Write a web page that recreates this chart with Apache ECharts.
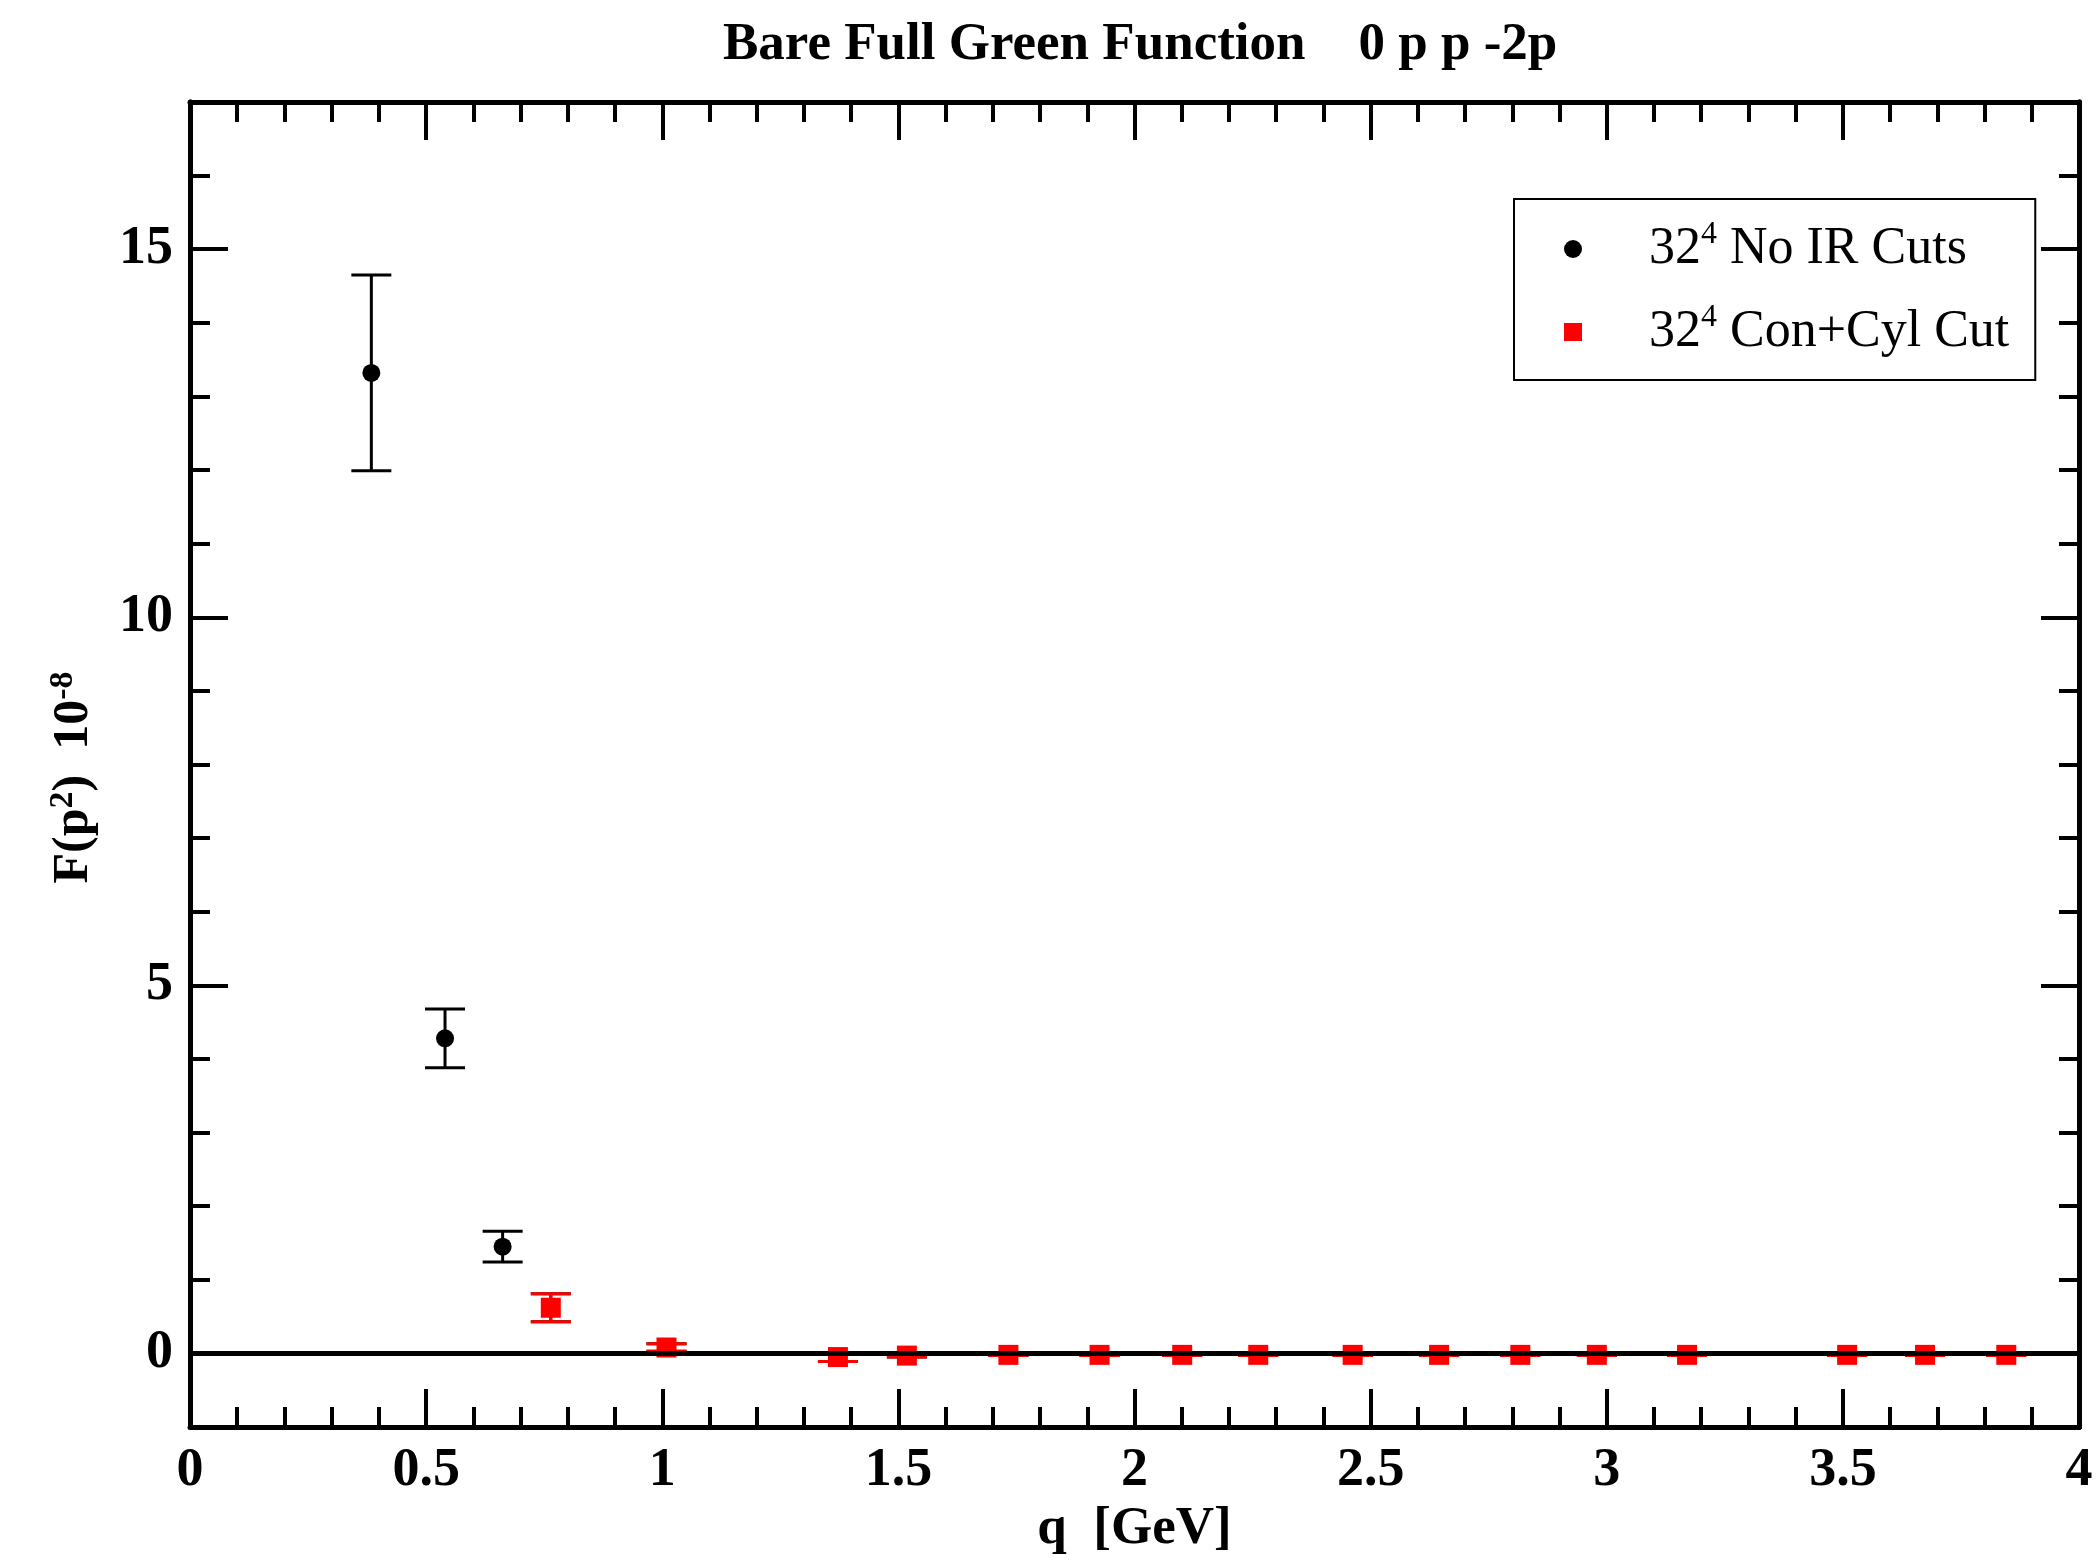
<!DOCTYPE html>
<html>
<head>
<meta charset="utf-8">
<script src="https://cdn.jsdelivr.net/npm/echarts@6/dist/echarts.min.js"></script>
<style>
html,body{margin:0;padding:0;background:#fff;}
#chart{width:2096px;height:1562px;}
</style>
</head>
<body>
<div id="chart"></div>
<script>
// ---- data ----
const titleText = 'Bare Full Green Function    0 p p -2p';
const seriesNames = ['32⁴ No IR Cuts', '32⁴ Con+Cyl Cut'];

// 32^4 No IR Cuts (black)
const blackQ   = [0.384, 0.540, 0.662, 0.764, 1.009, 1.372, 1.518, 1.733, 1.926, 2.101, 2.262, 2.462, 2.645, 2.817, 2.979, 3.170, 3.509, 3.674, 3.846];
const blackVal = [13.32, 4.28, 1.45, 0.62, 0.08, -0.05, -0.03, -0.02, -0.02, -0.02, -0.02, -0.02, -0.02, -0.02, -0.02, -0.02, -0.02, -0.02, -0.02];
const blackErr = [1.33, 0.40, 0.21, 0.19, 0.05, 0.06, 0.02, 0.01, 0.01, 0.01, 0.01, 0.01, 0.01, 0.01, 0.01, 0.01, 0.01, 0.01, 0.01];

// 32^4 Con+Cyl Cut (red)
const redQ   = [0.764, 1.009, 1.372, 1.518, 1.733, 1.926, 2.101, 2.262, 2.462, 2.645, 2.817, 2.979, 3.170, 3.509, 3.674, 3.846];
const redVal = [0.62, 0.08, -0.05, -0.03, -0.02, -0.02, -0.02, -0.02, -0.02, -0.02, -0.02, -0.02, -0.02, -0.02, -0.02, -0.02];
const redErr = [0.19, 0.05, 0.06, 0.02, 0.01, 0.01, 0.01, 0.01, 0.01, 0.01, 0.01, 0.01, 0.01, 0.01, 0.01, 0.01];

const xMin = 0, xMax = 4, xStep = 0.5;
const yMin = -1, yMax = 17;
const yMajorTicks = [0, 5, 10, 15];

// ---- chart ----
const FONT = "'Liberation Serif', 'Times New Roman', serif";
const chart = echarts.init(document.getElementById('chart'), null, {renderer: 'canvas'});

function errRender(color) {
  return function (params, api) {
    const x = api.value(0), y = api.value(1), e = api.value(2);
    const top = api.coord([x, y + e]);
    const bot = api.coord([x, y - e]);
    const hw = 20;
    const st = {stroke: color, lineWidth: 3};
    return {
      type: 'group',
      children: [
        {type: 'line', shape: {x1: top[0], y1: top[1], x2: bot[0], y2: bot[1]}, style: st},
        {type: 'line', shape: {x1: top[0] - hw, y1: top[1], x2: top[0] + hw, y2: top[1]}, style: st},
        {type: 'line', shape: {x1: bot[0] - hw, y1: bot[1], x2: bot[0] + hw, y2: bot[1]}, style: st}
      ]
    };
  };
}

const axisLineStyle = {show: true, onZero: false, lineStyle: {color: '#000', width: 5}};
const majorTick = {show: true, inside: true, length: 38, lineStyle: {color: '#000', width: 4}};
const minorTickX = {show: true, splitNumber: 5, length: 20, lineStyle: {color: '#000', width: 4}};
const labelStyle = {fontFamily: FONT, fontSize: 54, fontWeight: 'bold', color: '#000'};

const option = {
  animation: false,
  backgroundColor: '#fff',
  title: {
    text: titleText,
    left: 723,
    top: 19,
    padding: 0,
    textStyle: {fontFamily: FONT, fontSize: 53, fontWeight: 'bold', color: '#000'}
  },
  grid: {left: 190, top: 102, width: 1889, height: 1325, containLabel: false},
  legend: {
    left: 1514,
    top: 199,
    orient: 'vertical',
    padding: [20, 26, 18, 50],
    itemGap: 23,
    itemWidth: 18,
    itemHeight: 18,
    borderColor: '#000',
    borderWidth: 2,
    backgroundColor: '#fff',
    selectedMode: false,
    data: [
      {name: seriesNames[0], icon: 'circle', itemStyle: {color: '#000'}},
      {name: seriesNames[1], icon: 'rect', itemStyle: {color: '#ff0000'}}
    ],
    formatter: function (name) {
      return '{gap|}' + name.replace('⁴', '{sup|4}');
    },
    textStyle: {
      fontFamily: FONT, fontSize: 52, color: '#000', lineHeight: 60,
      rich: {
        gap: {width: 62},
        sup: {fontFamily: FONT, fontSize: 32, color: '#000', verticalAlign: 'top', lineHeight: 30}
      }
    }
  },
  xAxis: [
    {
      type: 'value', min: xMin, max: xMax, interval: xStep, position: 'bottom',
      axisLine: axisLineStyle, axisTick: majorTick, minorTick: minorTickX,
      splitLine: {show: false}, minorSplitLine: {show: false},
      axisLabel: Object.assign({margin: 17, showMinLabel: true, showMaxLabel: true}, labelStyle),
      name: 'q  [GeV]', nameLocation: 'middle', nameGap: 72,
      nameTextStyle: {fontFamily: FONT, fontSize: 53, fontWeight: 'bold', color: '#000'}
    },
    {
      type: 'value', min: xMin, max: xMax, interval: xStep, position: 'top',
      axisLine: axisLineStyle, axisTick: majorTick, minorTick: minorTickX,
      splitLine: {show: false}, axisLabel: {show: false}
    }
  ],
  yAxis: [
    {
      type: 'value', min: yMin, max: yMax, position: 'left',
      axisLine: axisLineStyle,
      axisTick: Object.assign({customValues: yMajorTicks}, majorTick),
      axisLabel: Object.assign({customValues: yMajorTicks, margin: 17}, labelStyle),
      splitLine: {show: false},
      name: 'F(p{sup|2})  10{sup|-8}', nameLocation: 'middle', nameRotate: 90, nameGap: 88,
      nameTextStyle: {
        fontFamily: FONT, fontSize: 50, fontWeight: 'bold', color: '#000', lineHeight: 56,
        padding: [0, 26, 0, 0],
        rich: {sup: {fontFamily: FONT, fontSize: 34, fontWeight: 'bold', color: '#000', verticalAlign: 'top', lineHeight: 30}}
      }
    },
    {
      type: 'value', min: yMin, max: yMax, interval: 1, position: 'left',
      axisLine: axisLineStyle,
      axisTick: {show: true, inside: true, length: 20, lineStyle: {color: '#000', width: 4}},
      axisLabel: {show: false}, splitLine: {show: false}
    },
    {
      type: 'value', min: yMin, max: yMax, position: 'right',
      axisLine: axisLineStyle,
      axisTick: Object.assign({customValues: yMajorTicks}, majorTick),
      axisLabel: {show: false}, splitLine: {show: false}
    },
    {
      type: 'value', min: yMin, max: yMax, interval: 1, position: 'right',
      axisLine: axisLineStyle,
      axisTick: {show: true, inside: true, length: 20, lineStyle: {color: '#000', width: 4}},
      axisLabel: {show: false}, splitLine: {show: false}
    }
  ],
  series: [
    {
      name: 'err-black', type: 'custom', z: 1, silent: true,
      renderItem: errRender('#000'),
      encode: {x: 0, y: 1},
      data: blackQ.map((q, i) => [q, blackVal[i], blackErr[i]])
    },
    {
      name: seriesNames[0], type: 'scatter', z: 2, symbol: 'circle', symbolSize: 18,
      itemStyle: {color: '#000', opacity: 1},
      emphasis: {disabled: true},
      data: blackQ.map((q, i) => [q, blackVal[i]])
    },
    {
      name: 'err-red', type: 'custom', z: 3, silent: true,
      renderItem: errRender('#ff0000'),
      encode: {x: 0, y: 1},
      data: redQ.map((q, i) => [q, redVal[i], redErr[i]])
    },
    {
      name: seriesNames[1], type: 'scatter', z: 4, symbol: 'rect', symbolSize: 20,
      itemStyle: {color: '#ff0000', opacity: 1},
      emphasis: {disabled: true},
      data: redQ.map((q, i) => [q, redVal[i]]),
      markLine: {
        silent: true, symbol: ['none', 'none'], label: {show: false},
        lineStyle: {color: '#000', width: 5, type: 'solid', opacity: 1},
        emphasis: {disabled: true},
        data: [{yAxis: 0}]
      }
    }
  ]
};
chart.setOption(option);
</script>
</body>
</html>
